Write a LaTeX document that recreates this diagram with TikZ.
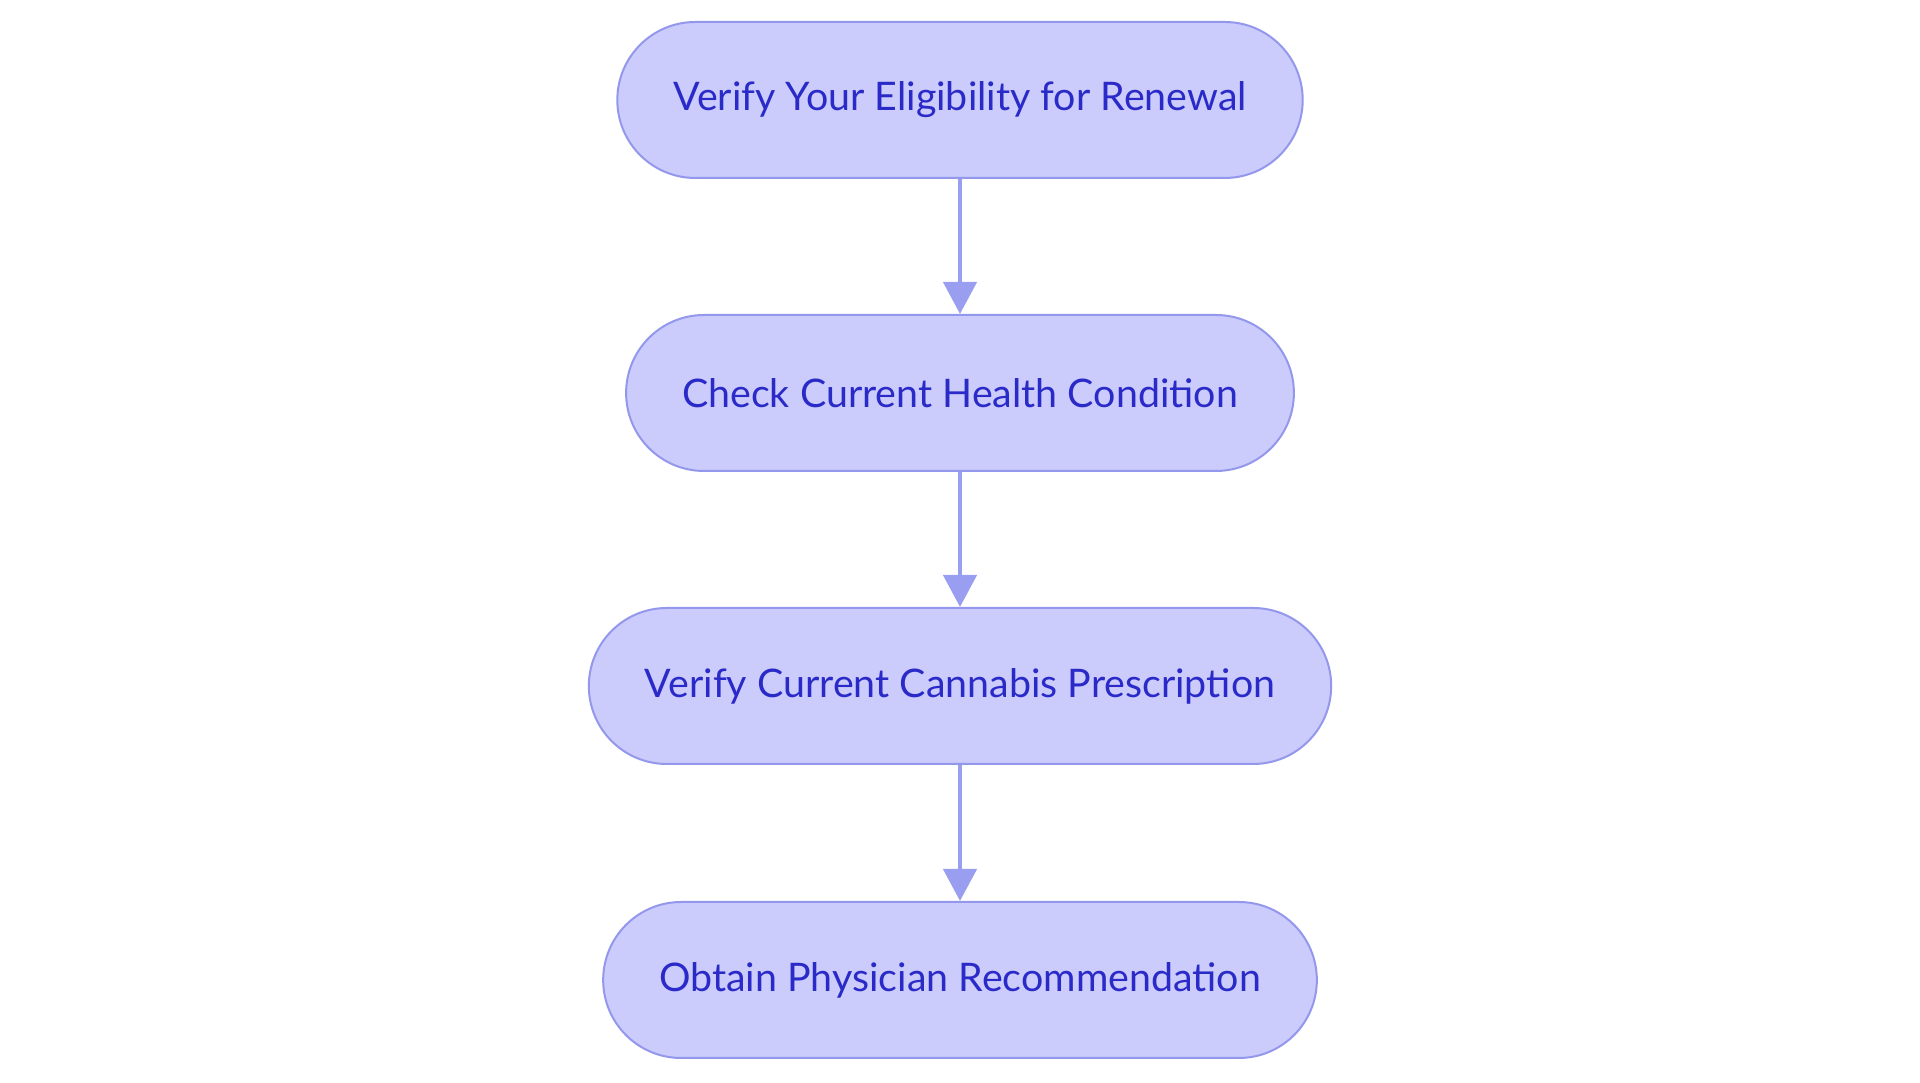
\documentclass[tikz,border=0pt]{standalone}
\usepackage{fontspec}
\setmainfont{Lato}
\usepackage{tikz}
\usetikzlibrary{arrows.meta}

\definecolor{stepfill}{RGB}{203,203,252}
\definecolor{stepline}{RGB}{147,152,236}
\definecolor{steptext}{RGB}{42,42,200}
\definecolor{flowline}{RGB}{153,158,240}

\begin{document}
\begin{tikzpicture}[main/.style = {draw=stepline, fill=stepfill, line width=0.02cm, rounded corners=0.78cm, minimum height=1.56cm, inner xsep=0.56cm, text=steptext, font=\fontsize{11.2pt}{13pt}\selectfont},
	flow/.style = {draw=flowline, line width=0.045cm, -{Triangle[width=0.33cm,length=0.32cm]}}]
					\useasboundingbox (0,0) rectangle (19.2,10.83);
					\node[main] (elig) at (9.6,9.83) {Verify Your Eligibility for Renewal};
					\node[main] (health) at (9.6,6.90) {Check Current Health Condition};
					\node[main] (presc) at (9.6,3.97) {Verify Current Cannabis Prescription};
					\node[main] (phys) at (9.6,1.03) {Obtain Physician Recommendation};
					
					\draw[flow] (elig) -- (health);
					\draw[flow] (health) -- (presc);
					\draw[flow] (presc) -- (phys);
				\end{tikzpicture}
\end{document}
